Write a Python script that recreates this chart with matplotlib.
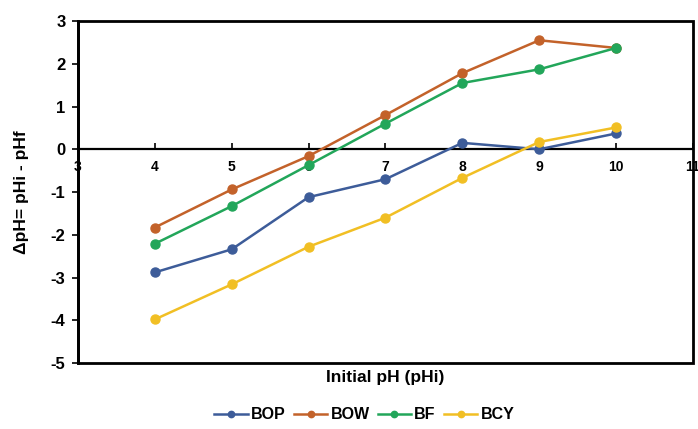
import matplotlib
matplotlib.use("Agg")
import matplotlib.pyplot as plt
from matplotlib.patches import Rectangle

plt.rcParams['font.family'] = ['Liberation Sans', 'DejaVu Sans']
plt.rcParams['font.weight'] = 'bold'

initial_ph = [4, 5, 6, 7, 8, 9, 10]
bop = [-2.88, -2.34, -1.12, -0.70, 0.15, 0.00, 0.37]
bow = [-1.83, -0.94, -0.16, 0.80, 1.78, 2.55, 2.37]
bf = [-2.21, -1.33, -0.37, 0.60, 1.55, 1.87, 2.37]
bcy = [-3.98, -3.16, -2.28, -1.60, -0.67, 0.17, 0.51]

series_names = ['BOP', 'BOW', 'BF', 'BCY']
series_colors = ['#3D5C99', '#C3622A', '#22A65A', '#F1BF24']
x_ticks = [3, 4, 5, 6, 7, 8, 9, 10, 11]
y_ticks = [-5, -4, -3, -2, -1, 0, 1, 2, 3]

fig = plt.figure(figsize=(6.98, 4.29), dpi=100)
ax = fig.add_axes([0.1117, 0.1538, 0.8811, 0.7972])

for vals, name, col in zip([bop, bow, bf, bcy], series_names, series_colors):
    ax.plot(initial_ph, vals, color=col, lw=1.8, marker='o', ms=6.5,
            label=name, zorder=3)

ax.set_xlim(3, 11)
ax.set_ylim(-5, 3)
ax.set_xticks(x_ticks)
ax.set_yticks(y_ticks)
ax.set_xticklabels([str(t) for t in x_ticks], fontsize=12, fontweight='bold')
ax.set_yticklabels([str(t) for t in y_ticks], fontsize=12, fontweight='bold')

# x axis crosses at zero; the plot area keeps a full frame
for s in ['top', 'right']:
    ax.spines[s].set_visible(False)
ax.spines['bottom'].set_position(('data', 0))
ax.spines['bottom'].set_linewidth(1.6)
ax.spines['left'].set_linewidth(2)
ax.add_patch(Rectangle((0, 0), 1, 1, transform=ax.transAxes, fill=False,
                       lw=2, edgecolor='black', clip_on=False, zorder=4))

ax.tick_params(axis='x', direction='in', length=4, width=1.2, pad=8)
ax.tick_params(axis='y', direction='out', length=4, width=1.2, pad=5)

ax.set_xlabel('Initial pH (pHi)', fontsize=12.5, fontweight='bold', labelpad=0)
ax.xaxis.set_label_coords(0.5, -0.02)
ax.set_ylabel('ΔpH= pHi - pHf', fontsize=12.5, fontweight='bold')
ax.yaxis.set_label_coords(-0.08, 0.5)

fig.legend(loc='center', bbox_to_anchor=(0.522, 0.033), ncol=4, frameon=False,
           prop={'weight': 'bold', 'size': 11.5}, handlelength=2.1,
           columnspacing=0.5, handletextpad=0.2, markerscale=0.7)

fig.savefig('out.png', dpi=100)
